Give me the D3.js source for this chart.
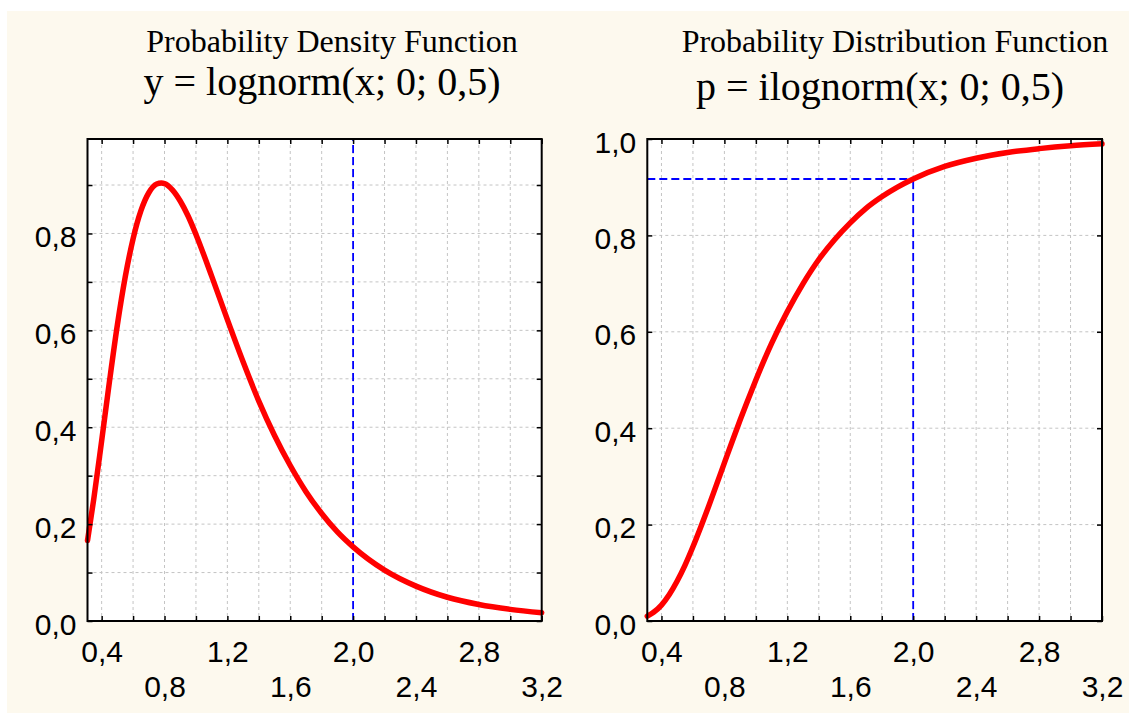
<!DOCTYPE html>
<html>
<head>
<meta charset="utf-8">
<script src="https://cdn.jsdelivr.net/npm/d3@7"></script>
<style>
body { margin: 0; background: #ffffff; }
svg { display: block; }
</style>
</head>
<body>
<svg id="chart" width="1129" height="713"></svg>
<script>
// values
var xs = [0.31, 0.35, 0.4, 0.45, 0.5, 0.55, 0.6, 0.65, 0.7, 0.75, 0.78, 0.8, 0.85, 0.9, 0.95, 1.0,
	1.1, 1.2, 1.3, 1.4, 1.5, 1.6, 1.7, 1.8, 1.9, 2.0, 2.2, 2.4, 2.6, 2.8, 3.0, 3.2];
var densityValues = [0.166, 0.252, 0.372, 0.495, 0.611, 0.710, 0.789, 0.847, 0.884, 0.902, 0.904, 0.903, 0.890, 0.867, 0.836, 0.798,
	0.712, 0.622, 0.535, 0.454, 0.383, 0.321, 0.267, 0.222, 0.184, 0.153, 0.105, 0.072, 0.049, 0.034, 0.024, 0.017];
var distributionValues = [0.010, 0.018, 0.033, 0.055, 0.083, 0.116, 0.154, 0.195, 0.238, 0.283, 0.310, 0.328, 0.373, 0.417, 0.459, 0.500,
	0.576, 0.642, 0.700, 0.750, 0.791, 0.826, 0.856, 0.880, 0.900, 0.917, 0.943, 0.960, 0.972, 0.980, 0.986, 0.990];

var xTicks = [0.4, 0.6, 0.8, 1.0, 1.2, 1.4, 1.6, 1.8, 2.0, 2.2, 2.4, 2.6, 2.8, 3.0, 3.2];
var xLabels = [0.4, 0.8, 1.2, 1.6, 2.0, 2.4, 2.8, 3.2];
var leftYTicks = [0, 0.1, 0.2, 0.3, 0.4, 0.5, 0.6, 0.7, 0.8, 0.9];
var leftYLabels = [0, 0.2, 0.4, 0.6, 0.8];
var rightYTicks = [0, 0.2, 0.4, 0.6, 0.8, 1.0];
var rightYLabels = [0, 0.2, 0.4, 0.6, 0.8, 1.0];

var markX = 2.0;
var markP = 0.917;

var fmt = function(d) { return d3.format(".1f")(d).replace(".", ","); };

var svg = d3.select("#chart");

svg.append("rect")
	.attr("x", 7)
	.attr("y", 11)
	.attr("width", 1122)
	.attr("height", 702)
	.attr("fill", "#fdf9ee");

function panel(opt) {
	var x = d3.scaleLinear().domain([0.31, 3.2]).range([opt.left, opt.right]);
	var y = d3.scaleLinear().domain([0, opt.ymax]).range([621, 139]);
	var g = svg.append("g");

	g.append("rect")
		.attr("x", opt.left)
		.attr("y", 139)
		.attr("width", opt.right - opt.left)
		.attr("height", 621 - 139)
		.attr("fill", "#ffffff");

	// grid
	g.selectAll(".vgrid")
		.data(xTicks.filter(function(d) { return d < 3.2; }))
		.enter().append("line")
		.attr("x1", function(d) { return x(d); })
		.attr("x2", function(d) { return x(d); })
		.attr("y1", 139)
		.attr("y2", 621)
		.attr("stroke", "#c4c4c4")
		.attr("stroke-width", 1)
		.attr("stroke-dasharray", "3,3");
	g.selectAll(".hgrid")
		.data(opt.yTicks.filter(function(d) { return d > 0 && y(d) > 141; }))
		.enter().append("line")
		.attr("x1", opt.left)
		.attr("x2", opt.right)
		.attr("y1", function(d) { return y(d); })
		.attr("y2", function(d) { return y(d); })
		.attr("stroke", "#c4c4c4")
		.attr("stroke-width", 1)
		.attr("stroke-dasharray", "3,3");

	// blue markers
	opt.markers(g, x, y);

	// curve
	var pts = xs.map(function(d, i) { return [d, opt.values[i]]; });
	g.append("path")
		.datum(pts)
		.attr("fill", "none")
		.attr("stroke", "#ff0000")
		.attr("stroke-width", 5.5)
		.attr("stroke-linecap", "round")
		.attr("d", d3.line()
			.x(function(d) { return x(d[0]); })
			.y(function(d) { return y(d[1]); })
			.curve(d3.curveMonotoneX));

	// axes with inward ticks
	var bottom = g.append("g")
		.attr("transform", "translate(0,621)")
		.call(d3.axisBottom(x).tickValues(xTicks).tickSize(-5).tickSizeOuter(0)
			.tickFormat(function(d) { return xLabels.some(function(v) { return Math.abs(v - d) < 1e-6; }) ? fmt(d) : ""; }));
	bottom.selectAll("text")
		.attr("dy", 0)
		.attr("y", function(d) {
			var i = xLabels.findIndex(function(v) { return Math.abs(v - d) < 1e-6; });
			return i % 2 === 0 ? 41 : 76;
		});
	g.append("g")
		.attr("transform", "translate(0,139)")
		.call(d3.axisTop(x).tickValues(xTicks).tickSize(-5).tickSizeOuter(0).tickFormat(""));

	var left = g.append("g")
		.attr("transform", "translate(" + opt.left + ",0)")
		.call(d3.axisLeft(y).tickValues(opt.yTicks).tickSize(-5).tickSizeOuter(0)
			.tickFormat(function(d) { return opt.yLabels.some(function(v) { return Math.abs(v - d) < 1e-6; }) ? fmt(d) : ""; }));
	left.selectAll("text")
		.attr("dy", 0)
		.attr("y", 13)
		.attr("x", -11);
	g.append("g")
		.attr("transform", "translate(" + opt.right + ",0)")
		.call(d3.axisRight(y).tickValues(opt.yTicks).tickSize(-5).tickSizeOuter(0).tickFormat(""));

	g.selectAll(".domain").remove();
	g.selectAll(".tick line").attr("stroke", "#000").attr("stroke-width", 1.5);
	g.selectAll(".tick text")
		.attr("fill", "#000")
		.style("font-family", "'Liberation Sans', Arial, sans-serif")
		.style("font-size", "30px");

	g.append("rect")
		.attr("x", opt.left)
		.attr("y", 139)
		.attr("width", opt.right - opt.left)
		.attr("height", 621 - 139)
		.attr("fill", "none")
		.attr("stroke", "#000")
		.attr("stroke-width", 2);

	g.append("text")
		.attr("x", opt.t1x)
		.attr("y", 52)
		.attr("text-anchor", "middle")
		.style("font-family", "'Liberation Serif', 'Times New Roman', serif")
		.style("font-size", "32px")
		.text(opt.title1);
	g.append("text")
		.attr("x", opt.t2x)
		.attr("y", opt.t2y)
		.attr("text-anchor", "middle")
		.style("font-family", "'Liberation Serif', 'Times New Roman', serif")
		.style("font-size", "40px")
		.text(opt.title2);
}

panel({
	left: 87.5, right: 541.7, ymax: 0.995,
	values: densityValues,
	yTicks: leftYTicks, yLabels: leftYLabels,
	title1: "Probability Density Function", t1x: 332,
	title2: "y = lognorm(x; 0; 0,5)", t2x: 322, t2y: 95,
	markers: function(g, x, y) {
		g.append("line")
			.attr("x1", x(markX)).attr("x2", x(markX))
			.attr("y1", y(0)).attr("y2", 139)
			.attr("stroke", "#0000ff")
			.attr("stroke-width", 1.8)
			.attr("stroke-dasharray", "8,4");
	}
});

panel({
	left: 647.3, right: 1102, ymax: 1.0,
	values: distributionValues,
	yTicks: rightYTicks, yLabels: rightYLabels,
	title1: "Probability Distribution Function", t1x: 895,
	title2: "p = ilognorm(x; 0; 0,5)", t2x: 880, t2y: 100,
	markers: function(g, x, y) {
		g.append("line")
			.attr("x1", x(0.31)).attr("x2", x(markX))
			.attr("y1", y(markP)).attr("y2", y(markP))
			.attr("stroke", "#0000ff")
			.attr("stroke-width", 1.8)
			.attr("stroke-dasharray", "8,4");
		g.append("line")
			.attr("x1", x(markX)).attr("x2", x(markX))
			.attr("y1", y(0)).attr("y2", y(markP))
			.attr("stroke", "#0000ff")
			.attr("stroke-width", 1.8)
			.attr("stroke-dasharray", "8,4");
	}
});
</script>
</body>
</html>
